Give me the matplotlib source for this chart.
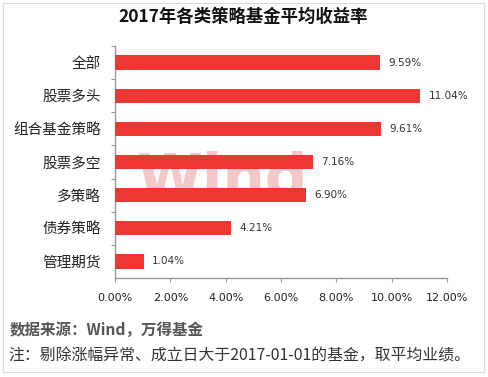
import matplotlib
matplotlib.use("Agg")
import matplotlib.pyplot as plt
from matplotlib.patches import Rectangle

plt.rcParams['font.family'] = ['Noto Sans CJK SC', 'DejaVu Sans']

categories = ['全部', '股票多头', '组合基金策略', '股票多空', '多策略', '债券策略', '管理期货']
values = [9.59, 11.04, 9.61, 7.16, 6.90, 4.21, 1.04]
value_labels = ['9.59%', '11.04%', '9.61%', '7.16%', '6.90%', '4.21%', '1.04%']
xticks = [0, 2, 4, 6, 8, 10, 12]
xtick_labels = ['0.00%', '2.00%', '4.00%', '6.00%', '8.00%', '10.00%', '12.00%']

W, H = 489, 377
fig = plt.figure(figsize=(W / 100, H / 100), dpi=100)
fig.patch.set_facecolor('white')

# outer frame
fig.add_artist(Rectangle((3 / W, 1 - 372 / H), 481 / W, 369 / H, transform=fig.transFigure,
                         fill=False, edgecolor='#dddddd', linewidth=0.8))

ax = fig.add_axes([115 / W, 1 - 278 / H, 332 / W, 232 / H])
ax.patch.set_alpha(0)
ypos = list(range(len(categories)))
ax.barh(ypos, values, height=0.43, color='#ee3632', zorder=3)
ax.set_ylim(len(categories) - 0.5, -0.5)
ax.set_xlim(0, 12)

for y, v, lab in zip(ypos, values, value_labels):
    ax.text(v + 0.3, y, lab, va='center', ha='left', fontsize=7.5, color='#333333',
            family=['DejaVu Sans'], zorder=4)

ax.set_yticks([y + 0.5 for y in ypos[:-1]] + [-0.5], minor=False)
ax.set_yticklabels([])
ax.set_yticks(ypos, minor=True)
ax.set_yticklabels(categories, minor=True, fontsize=10.5, color='#222222')
ax.tick_params(axis='y', which='minor', length=0, pad=10)
ax.tick_params(axis='y', which='major', length=3, color='#999999', direction='out')

ax.set_xticks(xticks)
ax.set_xticklabels(xtick_labels, fontsize=8, color='#222222', family=['DejaVu Sans'])
ax.tick_params(axis='x', length=3, color='#999999', direction='out', pad=8)

for s in ['top', 'right']:
    ax.spines[s].set_visible(False)
for s in ['left', 'bottom']:
    ax.spines[s].set_color('#999999')
    ax.spines[s].set_linewidth(1.0)

# watermark (behind the bars)
ax.text(222 / W, 1 - 180 / H, 'Wind', transform=fig.transFigure, fontsize=43, fontweight='bold',
        color='#f2c8c8', ha='center', va='center', family=['DejaVu Sans'], zorder=1)

fig.text(243 / W, 1 - 17 / H, '2017年各类策略基金平均收益率', fontsize=12.5, fontweight='bold',
         ha='center', va='center', color='#111111')

fig.text(10 / W, 1 - 330 / H, '数据来源：Wind，万得基金', fontsize=11.2, fontweight='bold',
         ha='left', va='center', color='#555555')
fig.text(8 / W, 1 - 356 / H, '注：剔除涨幅异常、成立日大于2017-01-01的基金，取平均业绩。', fontsize=11.4,
         ha='left', va='center', color='#333333')

fig.savefig('out.png', dpi=100)
